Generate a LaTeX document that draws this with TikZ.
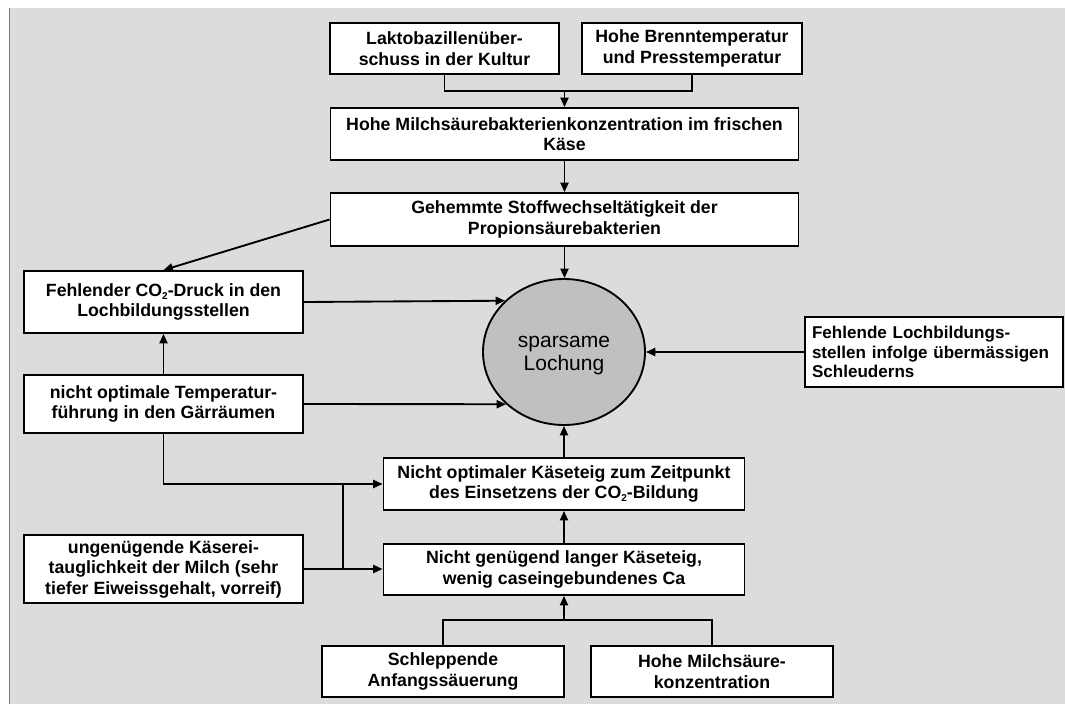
\documentclass[tikz,border=0pt]{standalone}
\usepackage{fontspec}
\setmainfont{Liberation Sans}
\usetikzlibrary{arrows.meta,shapes.geometric}
\definecolor{bgc}{HTML}{DCDCDC}
\definecolor{circc}{HTML}{C0C0C0}
\definecolor{edgec}{HTML}{7A7A7A}
\newcommand{\subtwo}{\raisebox{-2.2pt}{\fontsize{7.5pt}{7.5pt}\selectfont 2}}
\begin{document}
\begin{tikzpicture}[x=0.75pt,y=-0.75pt,
  box/.style 2 args={draw=black, fill=white, line width=1.4pt, rectangle, inner sep=0pt,
    minimum width=#1*0.75pt, minimum height=#2*0.75pt, align=center,
    font=\fontsize{13.3pt}{15.4pt}\selectfont\bfseries},
  wire/.style={line width=1.4pt},
  arr/.style={wire, -{Triangle[length=7pt,width=6pt]}},
  center/.style={ellipse, draw=black, fill=circc, line width=1.4pt, inner sep=0pt,
    minimum width=162*0.75pt, minimum height=146*0.75pt, align=center,
    font=\fontsize{15.75pt}{17.5pt}\selectfont}
]
\useasboundingbox (0,0) rectangle (1065,704);
\fill[white] (0,0) rectangle (1065,704);
\fill[bgc] (9,8) rectangle (1065,704);
\draw[edgec, line width=0.9pt] (9.5,8) -- (9.5,704);

% nodes
\node[box={229}{51}] (A) at (444.5,48.5) {Laktobazillenüber-\\schuss in der Kultur};
\node[box={220}{51}] (B) at (692,48.5) {Hohe Brenntemperatur\\und Presstemperatur};
\node[box={468}{52}] (C) at (564.5,134) {Hohe Milchsäurebakterienkonzentration im frischen\\Käse};
\node[box={468}{53}] (D) at (564.5,219.5) {Gehemmte Stoffwechseltätigkeit der\\Propionsäurebakterien};
\node[box={279}{62}] (E) at (163.5,302) {Fehlender CO\subtwo-Druck in den\\Lochbildungsstellen};
\node[box={279}{58}] (F) at (163.5,404) {nicht optimale Temperatur-\\führung in den Gärräumen};
\node[box={279}{68}] (I) at (163.5,569) {ungenügende Käserei-\\tauglichkeit der Milch (sehr\\tiefer Eiweissgehalt, vorreif)};
\node[box={361}{52}] (G) at (564,484) {Nicht optimaler Käseteig zum Zeitpunkt\\des Einsetzens der CO\subtwo-Bildung};
\node[box={361}{51}] (J) at (564,569.5) {Nicht genügend langer Käseteig,\\wenig caseingebundenes Ca};
\node[box={242}{51}] (K) at (443,671.5) {Schleppende\\Anfangssäuerung};
\node[box={242}{51}] (L) at (712,671.5) {Hohe Milchsäure-\\konzentration};
\node[box={258}{70}, align=left, text width=244*0.75pt,
      font=\fontsize{12.8pt}{14.8pt}\selectfont\bfseries] (H) at (934,352)
      {Fehlende Lochbildungs-\\stellen infolge übermässigen\\Schleuderns};
\node[center] (S) at (564,352) {\raisebox{-14pt}[0pt][0pt]{\begin{tabular}[b]{@{}c@{}}sparsame\\Lochung\end{tabular}}};

% connectors
\coordinate (jAB) at (564.5,91);
\draw[wire] (A.south) |- (jAB) -| (B.south);
\draw[arr] (jAB) -- (jAB |- C.north);
\draw[arr] (C.south) -- (D.north);
\draw[arr] (D.west) -- (E.north);
\draw[arr] (D.south) -- (D.south |- S.north);
\draw[arr] (E.east) -- (S.139.7);
\draw[arr] (F.east) -- (S.222.45);
\draw[arr] (H.west) -- (S.east);
\draw[arr] (F.north) -- (E.south);
\draw[arr] (F.south) |- (G.west);
\coordinate (m1) at (343,484);
\coordinate (m2) at (343,569);
\draw[wire] (m2) -- (m1);
\draw[arr] (I.east) -- (I.east -| J.west);
\draw[arr] (J.north) -- (G.south);
\draw[arr] (G.north) -- (S.south);
\coordinate (jKL) at (564,620);
\draw[wire] (K.north) |- (jKL) -| (L.north);
\draw[arr] (jKL) -- (J.south);
\end{tikzpicture}
\end{document}
